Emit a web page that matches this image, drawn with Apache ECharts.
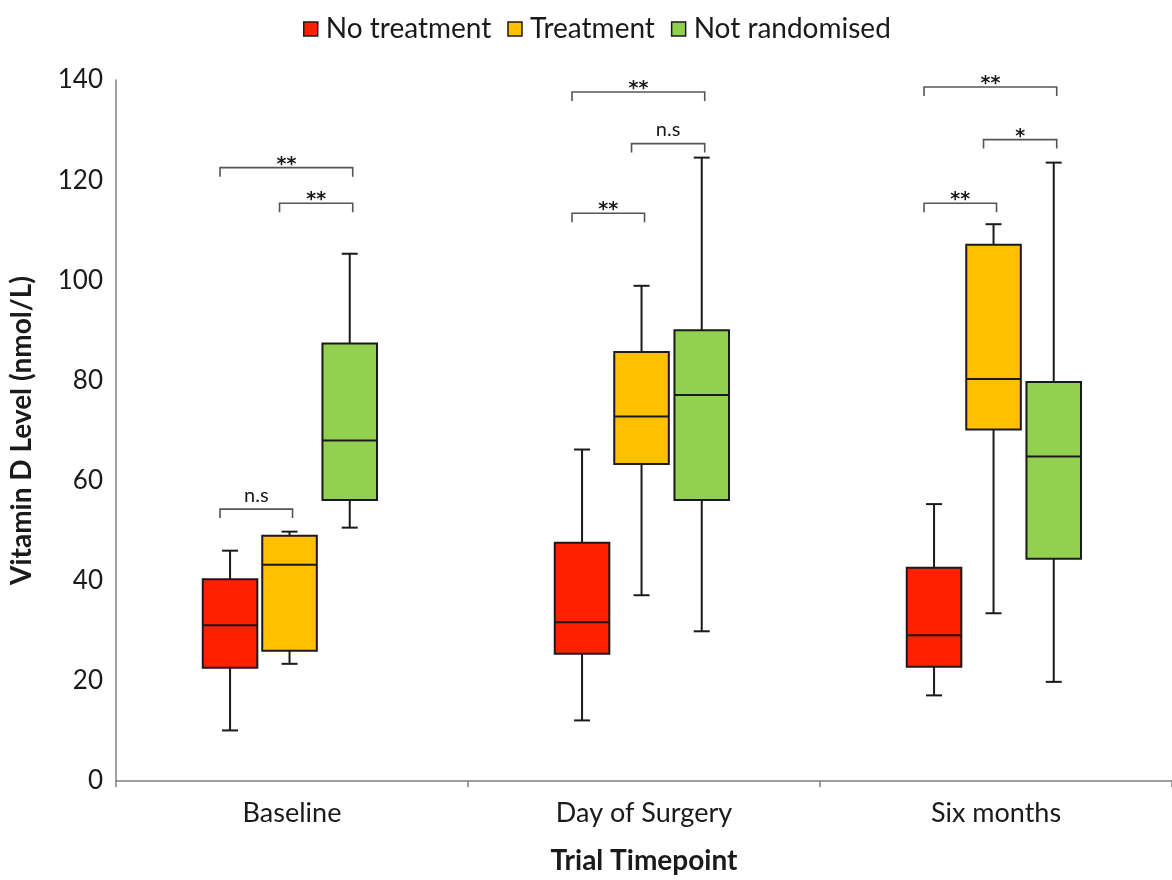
<!DOCTYPE html>
<html>
<head>
<meta charset="utf-8">
<script src="https://cdn.jsdelivr.net/npm/echarts@6/dist/echarts.min.js"></script>
<style>
  html, body { margin: 0; padding: 0; background: #ffffff; }
  #chart { width: 1172px; height: 880px; }
</style>
</head>
<body>
<div id="chart"></div>
<script>
// Trial timepoints on the x axis
const timepoints = ['Baseline', 'Day of Surgery', 'Six months'];
const groupNames = ['No treatment', 'Treatment', 'Not randomised'];

// Box statistics per timepoint: [min, Q1, median, Q3, max] in nmol/L
const noTreatment   = [[10.1, 22.6, 31.1, 40.3, 46.0], [12.1, 25.4, 31.7, 47.6, 66.2], [17.1, 22.8, 29.1, 42.6, 55.3]];
const treatment     = [[23.4, 26.0, 43.2, 49.0, 49.8], [37.1, 63.3, 72.8, 85.7, 98.9], [33.5, 70.2, 80.3, 107.1, 111.2]];
const notRandomised = [[50.6, 56.1, 68.0, 87.4, 105.3], [29.9, 56.1, 77.1, 90.0, 124.5], [19.8, 44.4, 64.8, 79.7, 123.5]];

// Y axis range and step
const yMin = 0, yMax = 140, yStep = 20;

// Significance brackets: [timepoint index, from group, to group, bracket level, label]
const brackets = [
  [0, 0, 1, 54.3, 'n.s'], [0, 1, 2, 115.4, '**'], [0, 0, 2, 122.5, '**'],
  [1, 0, 1, 113.4, '**'], [1, 1, 2, 127.3, 'n.s'], [1, 0, 2, 137.6, '**'],
  [2, 0, 1, 115.4, '**'], [2, 1, 2, 128.1, '*'],   [2, 0, 2, 138.6, '**']
];

// ---- layout / style constants ----
const FONT = 'Lato, "Open Sans", sans-serif';
const STAR_FONT = '"DejaVu Sans", sans-serif';
const INK = '#1a1a1a';
const AXIS_GREY = '#7f7f7f';
const COLORS = ['#ff2000', '#ffc000', '#92d050'];
const GROUP_OFFSETS = [-0.176, -0.007, 0.164]; // fraction of category band
const BOX_FRAC = 0.155;                          // box width as fraction of band
const CAP_HALF = 8;                              // whisker cap half-width (px)

const groupData = [noTreatment, treatment, notRandomised];

function groupCenter(api, cat, g) {
  const band = api.size([1, 0])[0];
  return api.coord([cat, 0])[0] + GROUP_OFFSETS[g] * band;
}

function boxRenderer(g) {
  return function (params, api) {
    const cat = api.value(0);
    const band = api.size([1, 0])[0];
    const cx = groupCenter(api, cat, g);
    const hw = BOX_FRAC * band / 2;
    const py = i => api.coord([cat, api.value(i)])[1];
    const yLo = py(1), yQ1 = py(2), yMed = py(3), yQ3 = py(4), yHi = py(5);
    const ls = { stroke: INK, lineWidth: 2 };
    return {
      type: 'group',
      children: [
        { type: 'line', shape: { x1: cx, y1: yQ3, x2: cx, y2: yHi }, style: ls },
        { type: 'line', shape: { x1: cx - CAP_HALF, y1: yHi, x2: cx + CAP_HALF, y2: yHi }, style: ls },
        { type: 'line', shape: { x1: cx, y1: yQ1, x2: cx, y2: yLo }, style: ls },
        { type: 'line', shape: { x1: cx - CAP_HALF, y1: yLo, x2: cx + CAP_HALF, y2: yLo }, style: ls },
        { type: 'rect', shape: { x: cx - hw, y: yQ3, width: 2 * hw, height: yQ1 - yQ3 },
          style: { fill: COLORS[g], stroke: INK, lineWidth: 2 } },
        { type: 'line', shape: { x1: cx - hw, y1: yMed, x2: cx + hw, y2: yMed }, style: ls }
      ]
    };
  };
}

function bracketRenderer(params, api) {
  const cat = api.value(0);
  const g1 = api.value(1), g2 = api.value(2);
  const y = api.coord([cat, api.value(3)])[1];
  const x1 = groupCenter(api, cat, g1) - 10;
  const x2 = groupCenter(api, cat, g2) + 3;
  const label = brackets[params.dataIndex][4];
  const isStars = label.indexOf('*') === 0;
  const drop = 9;
  return {
    type: 'group',
    children: [
      { type: 'polyline',
        shape: { points: [[x1, y + drop], [x1, y], [x2, y], [x2, y + drop]] },
        style: { stroke: '#555555', lineWidth: 1.6, fill: null } },
      { type: 'text', x: (x1 + x2) / 2, y: isStars ? y - 3 : y - 4,
        style: { text: label, fill: INK, align: 'center',
                 verticalAlign: isStars ? 'middle' : 'bottom',
                 fontFamily: isStars ? STAR_FONT : FONT,
                 fontSize: isStars ? 19 : 20,
                 fontWeight: isStars ? 'bold' : 'normal' } }
    ]
  };
}

const series = groupNames.map((name, g) => ({
  name: name,
  type: 'custom',
  renderItem: boxRenderer(g),
  itemStyle: { color: COLORS[g] },
  encode: { x: 0, y: [1, 2, 3, 4, 5] },
  data: groupData[g].map((s, i) => [i].concat(s)),
  z: 3
}));

series.push({
  name: 'significance',
  type: 'custom',
  renderItem: bracketRenderer,
  encode: { x: 0, y: 3 },
  data: brackets.map(b => [b[0], b[1], b[2], b[3]]),
  silent: true,
  z: 4
});

const chart = echarts.init(document.getElementById('chart'), null, { renderer: 'canvas' });
chart.setOption({
  backgroundColor: '#ffffff',
  animation: false,
  textStyle: { fontFamily: FONT },
  legend: {
    data: groupNames,
    top: 10,
    left: 298,
    icon: 'rect',
    itemWidth: 14,
    itemHeight: 14,
    itemGap: 16,
    itemStyle: { borderColor: INK, borderWidth: 1.5 },
    textStyle: { fontFamily: FONT, fontSize: 28, color: INK, padding: [0, 0, 0, 3] }
  },
  grid: { left: 112, top: 80, width: 1063, height: 706, containLabel: false },
  xAxis: {
    type: 'category',
    data: timepoints,
    boundaryGap: true,
    axisLine: { lineStyle: { color: AXIS_GREY, width: 1.5 } },
    axisTick: { show: true, length: 6, lineStyle: { color: AXIS_GREY, width: 1.5 } },
    axisLabel: { fontFamily: FONT, fontSize: 27, color: INK, margin: 19 },
    name: 'Trial Timepoint',
    nameLocation: 'middle',
    nameGap: 66,
    nameTextStyle: { fontFamily: FONT, fontSize: 28, fontWeight: 'bold', color: INK }
  },
  yAxis: {
    type: 'value',
    min: yMin,
    max: yMax,
    interval: yStep,
    splitLine: { show: false },
    axisLine: { show: true, lineStyle: { color: AXIS_GREY, width: 1.5 } },
    axisTick: { show: false },
    axisLabel: { fontFamily: FONT, fontSize: 26, color: INK, margin: 13 },
    name: 'Vitamin D Level (nmol/L)',
    nameLocation: 'middle',
    nameGap: 80,
    nameRotate: 90,
    nameTextStyle: { fontFamily: FONT, fontSize: 28, fontWeight: 'bold', color: INK }
  },
  series: series
});
</script>
</body>
</html>
